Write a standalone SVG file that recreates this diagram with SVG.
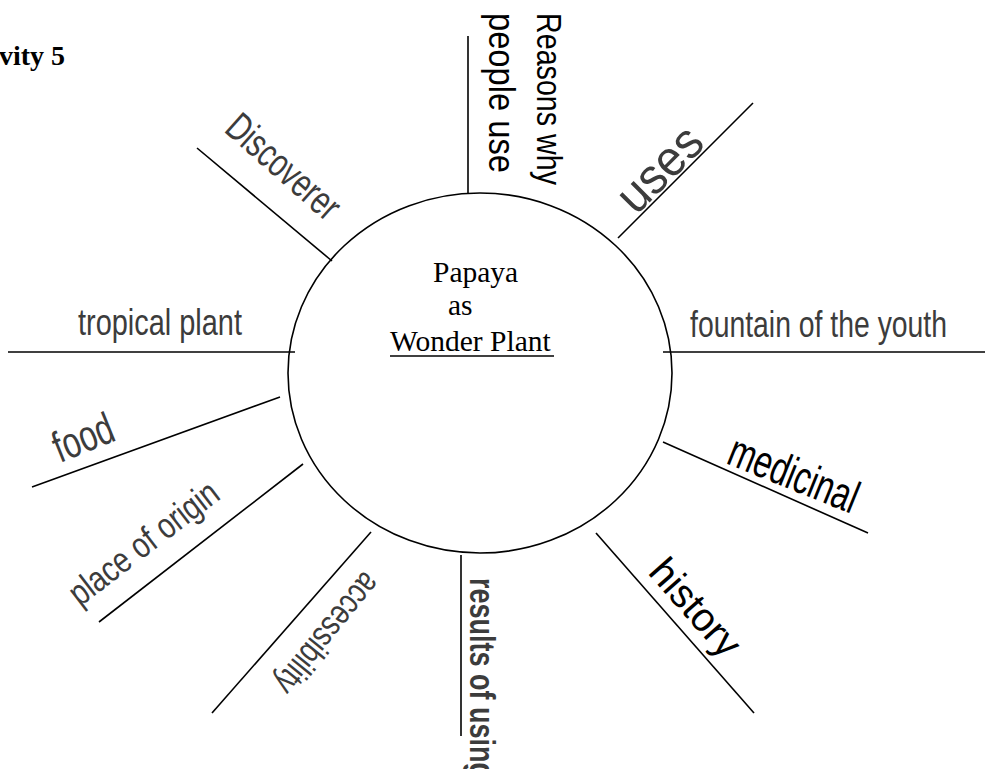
<svg xmlns="http://www.w3.org/2000/svg" width="985" height="769" viewBox="0 0 985 769">
<style>
.ln{stroke:#000;stroke-width:1.6;fill:none}
.lbl{font-family:"Liberation Sans",Arial,sans-serif;fill:#3c3c3c}
.blk{font-family:"Liberation Sans",Arial,sans-serif;fill:#000}
.ser{font-family:"Liberation Serif","Times New Roman",serif;fill:#000}
</style>
<rect width="985" height="769" fill="#fff"/>
<g id="title"><text class="ser" x="-1" y="65" font-size="28" font-weight="bold">vity 5</text></g>
<g id="connectors">
<line class="ln" x1="468" y1="36" x2="468" y2="193"/>
<line class="ln" x1="753" y1="103" x2="618" y2="238"/>
<line class="ln" x1="197" y1="148" x2="332" y2="261"/>
<line class="ln" x1="8" y1="352" x2="295" y2="352"/>
<line class="ln" x1="663" y1="352" x2="985" y2="352"/>
<line class="ln" x1="280" y1="397" x2="32" y2="487"/>
<line class="ln" x1="303" y1="464" x2="99" y2="622"/>
<line class="ln" x1="371" y1="532" x2="212" y2="713"/>
<line class="ln" x1="461" y1="555" x2="461" y2="736"/>
<line class="ln" x1="663" y1="442" x2="868" y2="533"/>
<line class="ln" x1="596" y1="533" x2="754" y2="713"/>
</g>
<g id="center">
<ellipse class="ln" cx="480" cy="373" rx="192" ry="180"/>
<text class="ser" x="433" y="282" font-size="29.5">Papaya</text>
<text class="ser" x="448" y="315" font-size="29.5">as</text>
<text class="ser" x="390" y="351" font-size="29.5">Wonder Plant</text>
<line x1="390" y1="356" x2="554" y2="356" stroke="#000" stroke-width="1.6"/>
</g>
<g id="reasons">
<text class="blk" transform="translate(537,13) rotate(90)" font-size="35" textLength="172" lengthAdjust="spacingAndGlyphs">Reasons why</text>
<text class="blk" transform="translate(489,13) rotate(90)" font-size="36" textLength="160" lengthAdjust="spacingAndGlyphs">people use</text>
</g>
<g id="uses"><text class="lbl" transform="translate(636,216) rotate(-45)" font-size="50" textLength="100" lengthAdjust="spacingAndGlyphs">uses</text></g>
<g id="discoverer"><text class="lbl" transform="translate(223,131) rotate(41.5)" font-size="40" textLength="138" lengthAdjust="spacingAndGlyphs">Discoverer</text></g>
<g id="tropical"><text class="lbl" x="78" y="335" font-size="36" textLength="164" lengthAdjust="spacingAndGlyphs">tropical plant</text></g>
<g id="fountain"><text class="lbl" x="690" y="337" font-size="36" textLength="257" lengthAdjust="spacingAndGlyphs">fountain of the youth</text></g>
<g id="food"><text class="lbl" transform="translate(60,463) rotate(-22)" font-size="44" textLength="62" lengthAdjust="spacingAndGlyphs">food</text></g>
<g id="origin"><text class="lbl" transform="translate(80,607) rotate(-37.5)" font-size="36" textLength="179" lengthAdjust="spacingAndGlyphs">place of origin</text></g>
<g id="accessibility"><text class="lbl" transform="translate(364,570) rotate(129)" font-size="35" textLength="145" lengthAdjust="spacingAndGlyphs">accessibility</text></g>
<g id="results"><text class="lbl" transform="translate(470,578) rotate(90)" font-size="35" font-weight="bold" textLength="201" lengthAdjust="spacingAndGlyphs">results of using</text></g>
<g id="medicinal"><text class="blk" transform="translate(725,463) rotate(22)" font-size="46" textLength="136" lengthAdjust="spacingAndGlyphs">medicinal</text></g>
<g id="history"><text class="blk" transform="translate(647,573) rotate(48.5)" font-size="40" textLength="116" lengthAdjust="spacingAndGlyphs">history</text></g>
</svg>
